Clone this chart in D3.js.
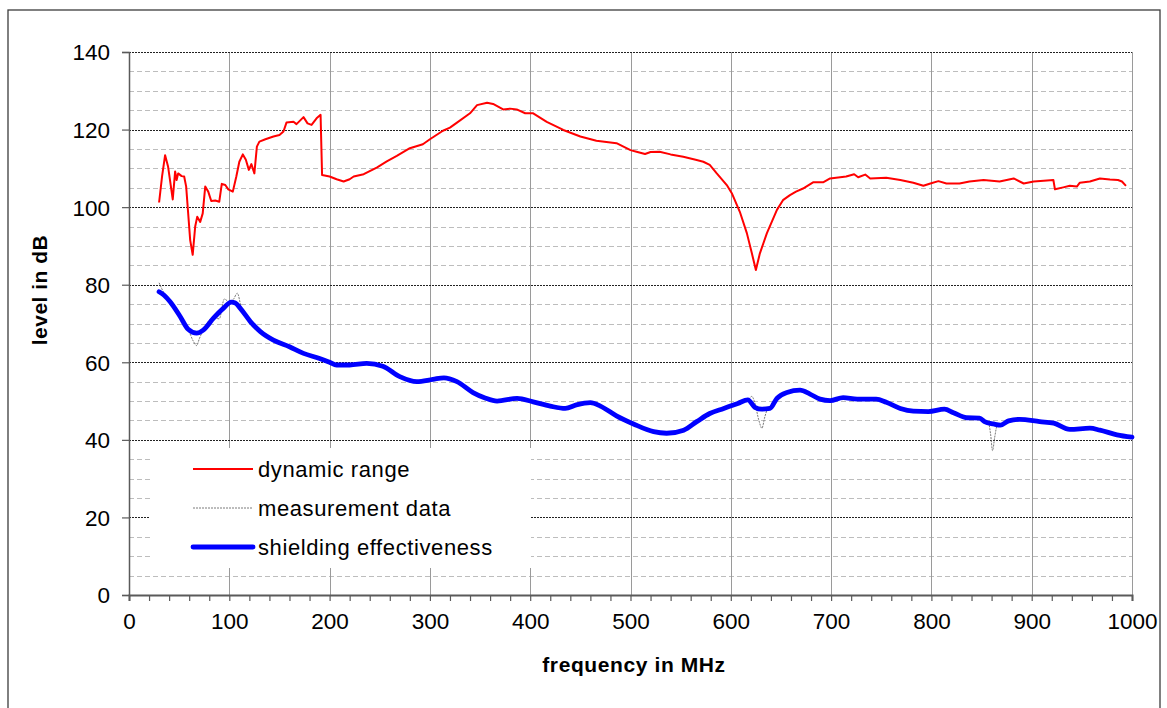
<!DOCTYPE html>
<html>
<head>
<meta charset="utf-8">
<script src="https://cdn.jsdelivr.net/npm/d3@7"></script>
<style>
  html, body { margin: 0; padding: 0; background: #fff; }
  svg { display: block; font-family: "Liberation Sans", Arial, sans-serif; }
</style>
</head>
<body>
<svg id="chart" width="1167" height="708"></svg>
<script>
// ---------------- data ----------------
const xTickLabels = [0, 100, 200, 300, 400, 500, 600, 700, 800, 900, 1000];
const yTickLabels = [0, 20, 40, 60, 80, 100, 120, 140];
const seriesNames = ["dynamic range", "measurement data", "shielding effectiveness"];

const dynFreq = [30,33,36,39,43.6,46,47.5,49,52.5,55,57,58.5,61,63.5,66,68,71,73.5,76,79,82,86,90,92.5,96,99,103.5,107,110,113.5,116.5,119.5,122,125,127.5,130,136,144,150,154,157,164,167,174,178,182,187,191,192.5,200,207,214,220,224,234,240,247,257,267,280,293,300,313,320,327,340,347,357,363,373,380,386.5,395,403,416.5,433,450,466,486,496,500,506,514.5,520,529,540,552.6,565,572.6,579,586,596,601,609,616,621,625,629,636,646,652,659,665,672,682,692,699,715,723,727,734,739,755,769,782,792,799,807,815,828,838,852,868,882,892,902,912,921.6,923.2,931.5,938,945,948,958,968,978,986,990,994];
const dynValues = [101.2,108,113.4,110.4,102,109.2,107,108.7,108,107.9,105.3,100.1,91.5,87.7,95,97.5,96.2,98.4,105.3,104,101.6,101.7,101.4,106,105.7,104.6,104,107.9,111.7,113.6,112.2,109.6,111.1,108.7,115.6,116.9,117.5,118.2,118.6,119.5,121.8,122,121.4,123.2,121.6,121.2,122.9,123.8,108.3,107.9,107.2,106.6,107.2,107.9,108.5,109.3,110.2,111.8,113.2,115.2,116.2,117.5,119.7,120.5,121.8,124.2,126.3,126.9,126.6,125.2,125.4,125.2,124.2,124.2,122,119.9,118.2,117.1,116.5,115.2,114.7,114.3,113.7,114.2,114.3,113.6,113,112.2,111.7,110.9,108.7,105.7,103.6,98.8,93.3,88.1,83.8,88.1,93.3,99.3,101.8,103.1,104,104.8,106.4,106.4,107.4,107.9,108.5,107.7,108.4,107.4,107.6,107,106.3,105.5,106.1,106.7,106.1,106.1,106.6,107,106.6,107.4,106.1,106.6,106.8,107,104.6,105.1,105.5,105.3,106.3,106.6,107.4,107.1,107,106.6,105.5];

const seFreq = [30,35,41,51,59,67.5,74,84,94,102,106,111,121,131,144,160,174,190,200,207,220,237,253,270,287,303,314,327,343,355,367,387,403,420,435,446,460,470,486,503,523,536,553,566,579,593,607,617,624,631,639,646,656,669,679,689,699,712,726,745,755,769,782,797,813,822,835,848,853,862,869,877,888,908,922,938,958,968,985,1000];
const seValues = [78.2,77.3,75.6,71.8,68.5,67.5,68.3,71.3,73.9,75.5,75.3,73.9,70.5,67.9,65.7,64.0,62.3,61.0,60.0,59.3,59.3,59.7,59.0,56.3,55.0,55.6,56.0,55.0,52.2,50.8,50.0,50.7,49.8,48.7,48.1,49.0,49.6,48.7,46.2,44.1,42.1,41.7,42.5,44.7,46.8,48.1,49.4,50.3,48.4,47.9,48.1,50.7,52.2,52.8,51.8,50.5,50.1,50.9,50.5,50.5,49.7,48.1,47.4,47.3,47.9,47.0,45.7,45.6,44.7,44.1,43.8,44.9,45.3,44.7,44.3,42.7,43.0,42.5,41.3,40.7];

const measFreq = [30,35,41,51,59,64,67.5,70,74,84,90,95,100,104,108,112,121,131,144,160,174,190,200,207,220,237,253,270,287,303,314,327,343,355,367,387,403,420,435,446,460,470,486,503,523,536,553,566,579,593,607,617,621,624,628,631,634,637,639,646,656,669,679,689,699,712,726,745,755,769,782,797,813,822,835,848,853,857,859,861,863,866,869,877,888,908,922,938,958,968,985,1000];
const measValues = [80.5,77.8,75.6,71.8,68.5,65.5,64.3,66.0,68.3,71.5,71.2,76.3,75.6,76.2,77.8,74.0,70.5,67.9,65.7,64.0,62.3,61.0,60.0,59.3,59.3,59.7,59.0,56.3,55.0,55.6,56.0,55.0,52.2,50.8,50.0,50.7,49.8,48.7,48.1,49.0,49.6,48.7,46.2,44.1,42.1,41.7,42.5,44.7,46.8,48.1,49.4,50.3,51.2,49.5,45.0,43.0,46.0,48.0,48.1,50.7,52.2,52.8,51.8,50.5,50.1,50.9,50.5,50.5,49.7,48.1,47.4,47.3,47.9,47.0,45.7,45.6,44.7,44.3,41.5,37.2,40.5,44.0,43.8,44.9,45.3,44.7,44.3,42.7,43.0,42.5,41.3,40.7];

// ---------------- chart ----------------
const svg = d3.select("#chart");
const x = d3.scaleLinear().domain([0, 1000]).range([129, 1132]);
const y = d3.scaleLinear().domain([0, 140]).range([595, 52]);
const FONT = "Liberation Sans, Arial, sans-serif";

// outer border
svg.append("rect").attr("x", 8).attr("y", 10).attr("width", 1152).attr("height", 720)
  .attr("fill", "#fff").attr("stroke", "#3c3c3c").attr("stroke-width", 1.3);

// minor horizontal grid (every 5 dB)
const minorY = d3.range(5, 140, 5).filter(v => v % 20 !== 0);
svg.append("g").selectAll("line").data(minorY).join("line")
  .attr("x1", x(0)).attr("x2", x(1000))
  .attr("y1", d => Math.round(y(d)) + 0.5).attr("y2", d => Math.round(y(d)) + 0.5)
  .attr("stroke", "#bdbdbd").attr("stroke-width", 1).attr("stroke-dasharray", "5,3");

// vertical grid
svg.append("g").selectAll("line").data(xTickLabels.slice(1)).join("line")
  .attr("x1", d => Math.round(x(d)) + 0.5).attr("x2", d => Math.round(x(d)) + 0.5)
  .attr("y1", y(140)).attr("y2", y(0))
  .attr("stroke", "#9a9a9a").attr("stroke-width", 1);

// major horizontal grid
svg.append("g").selectAll("line").data(yTickLabels.slice(1)).join("line")
  .attr("x1", x(0)).attr("x2", x(1000))
  .attr("y1", d => Math.round(y(d)) + 0.5).attr("y2", d => Math.round(y(d)) + 0.5)
  .attr("stroke", "#222").attr("stroke-width", 1).attr("stroke-dasharray", "2,1");

// legend background
svg.append("rect").attr("x", 150).attr("y", 448).attr("width", 381).attr("height", 120).attr("fill", "#fff");

// axes
const yAxis = d3.axisLeft(y).tickValues(yTickLabels).tickSize(7).tickPadding(12).tickFormat(d => String(d));
const gy = svg.append("g").attr("transform", `translate(${x(0)},0)`).call(yAxis);
gy.select(".domain").attr("stroke", "#5a5a5a").attr("stroke-width", 1.5);
gy.selectAll(".tick line").attr("stroke", "#5a5a5a").attr("stroke-width", 1.2);
gy.selectAll("text").attr("font-size", 22.5).attr("fill", "#000").attr("font-family", FONT)
  .attr("dy", "0.35em");

const minorX = d3.range(0, 1001, 20);
const xAxisMinor = d3.axisBottom(x).tickValues(minorX).tickSize(6).tickFormat("");
const gxm = svg.append("g").attr("transform", `translate(0,${y(0)})`).call(xAxisMinor);
gxm.select(".domain").attr("stroke", "#5a5a5a").attr("stroke-width", 2);
gxm.selectAll(".tick line").attr("stroke", "#5a5a5a").attr("stroke-width", 1.2);

const xAxisLab = d3.axisBottom(x).tickValues(xTickLabels).tickSize(0).tickPadding(18).tickFormat(d => String(d));
const gx = svg.append("g").attr("transform", `translate(0,${y(0)})`).call(xAxisLab);
gx.select(".domain").remove();
gx.selectAll("text").attr("font-size", 22.5).attr("fill", "#000").attr("font-family", FONT);

// axis titles
svg.append("text").attr("transform", "translate(47,290) rotate(-90)")
  .attr("text-anchor", "middle").attr("font-size", 21).attr("font-weight", "bold")
  .attr("letter-spacing", 0.5).text("level in dB");
svg.append("text").attr("x", 634).attr("y", 672)
  .attr("text-anchor", "middle").attr("font-size", 21).attr("font-weight", "bold")
  .attr("letter-spacing", 0.6).text("frequency in MHz");

// series
const line = d3.line().x(d => x(d[0])).y(d => y(d[1]));
const lineSmooth = d3.line().x(d => x(d[0])).y(d => y(d[1])).curve(d3.curveMonotoneX);

svg.append("path").datum(d3.zip(measFreq, measValues)).attr("d", lineSmooth)
  .attr("fill", "none").attr("stroke", "#7a7a7a").attr("stroke-width", 1).attr("stroke-dasharray", "2,1");
svg.append("path").datum(d3.zip(seFreq, seValues)).attr("d", lineSmooth)
  .attr("fill", "none").attr("stroke", "#0000ff").attr("stroke-width", 4.8)
  .attr("stroke-linejoin", "round").attr("stroke-linecap", "round");
svg.append("path").datum(d3.zip(dynFreq, dynValues)).attr("d", line)
  .attr("fill", "none").attr("stroke", "#ff0000").attr("stroke-width", 2)
  .attr("stroke-linejoin", "round");

// legend
const legendStyles = [
  { color: "#ff0000", width: 2, dash: null },
  { color: "#7a7a7a", width: 1, dash: "2,1" },
  { color: "#0000ff", width: 4.8, dash: null }
];
const lg = svg.append("g");
seriesNames.forEach((name, i) => {
  const cy = 469 + i * 39;
  const s = legendStyles[i];
  const l = lg.append("line").attr("x1", 193).attr("x2", 253).attr("y1", cy).attr("y2", cy)
    .attr("stroke", s.color).attr("stroke-width", s.width);
  if (s.dash) l.attr("stroke-dasharray", s.dash);
  if (i === 2) l.attr("stroke-linecap", "round");
  lg.append("text").attr("x", 258).attr("y", cy + 8).attr("font-size", 22).attr("fill", "#000")
    .attr("letter-spacing", 0.6).text(name);
});
</script>
</body>
</html>
